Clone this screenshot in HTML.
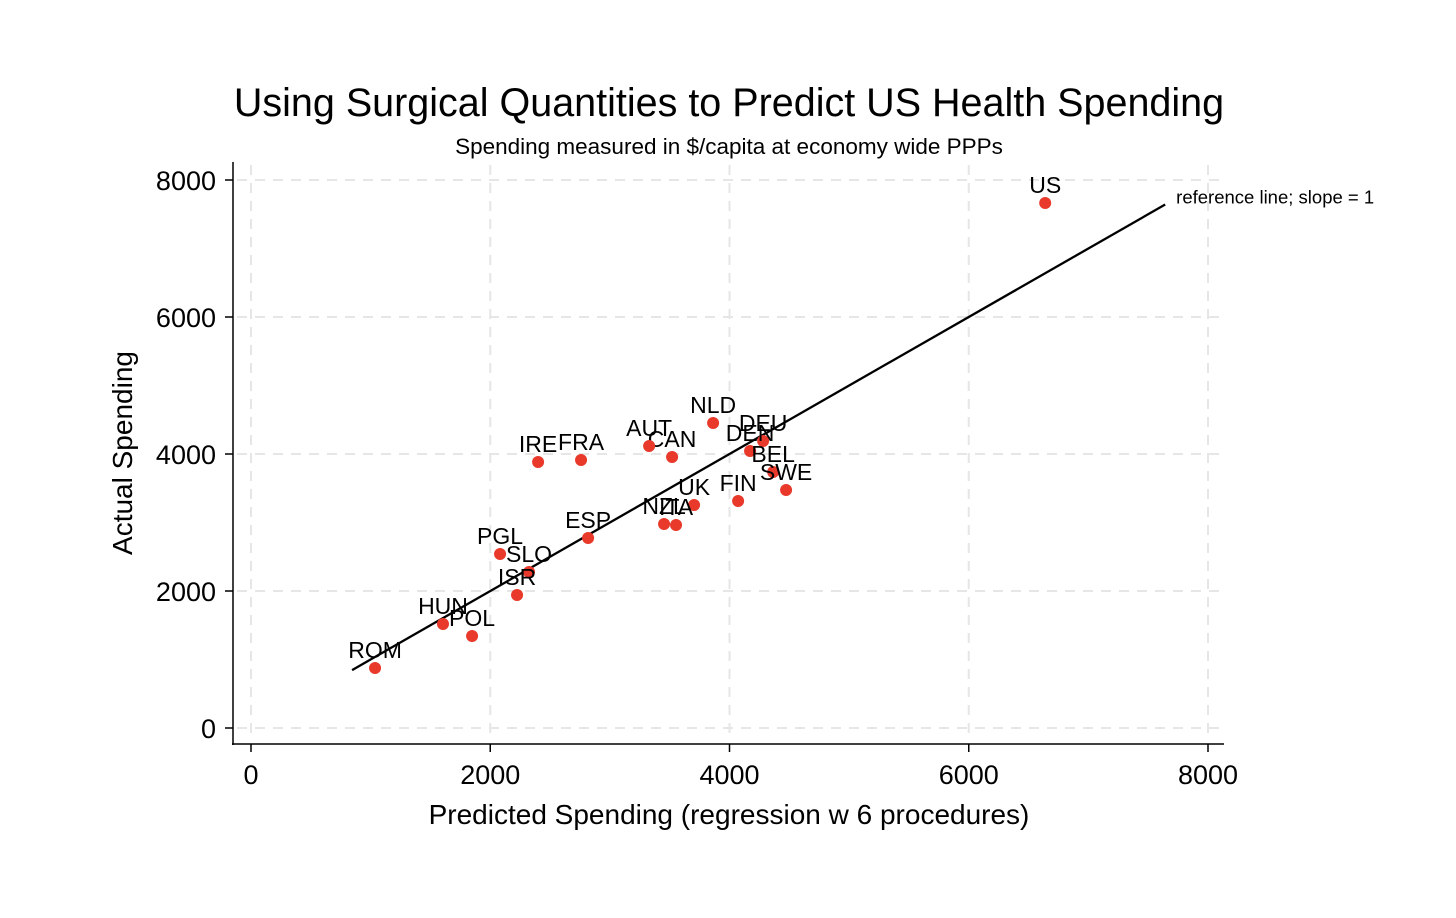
<!DOCTYPE html>
<html><head><meta charset="utf-8"><style>
body{margin:0;background:#fff;}
svg text{font-family:"Liberation Sans",Arial,sans-serif;}
</style></head><body>
<svg id="chart" width="1456" height="913">
<text x="729" y="116" font-size="39.5" text-anchor="middle">Using Surgical Quantities to Predict US Health Spending</text>
<text x="729" y="154" font-size="22.5" text-anchor="middle">Spending measured in $/capita at economy wide PPPs</text>
<g id="grid"></g>
<line x1="233" y1="162" x2="233" y2="745" stroke="#000" stroke-width="1.5"/>
<line x1="232" y1="744" x2="1224" y2="744" stroke="#000" stroke-width="1.5"/>
<g id="ticks"></g>
<text x="729" y="824" font-size="28" text-anchor="middle">Predicted Spending (regression w 6 procedures)</text>
<text transform="translate(132,453) rotate(-90)" font-size="28" text-anchor="middle">Actual Spending</text>
<g id="refline"></g>
<g id="points"></g>
</svg>
<script>
const countries=["US","NLD","DEU","DEN","BEL","SWE","FIN","UK","ITA","NZL","CAN","AUT","FRA","IRE","ESP","PGL","SLO","ISR","HUN","POL","ROM"];
const predicted=[6639,3863,4281,4172,4365,4473,4072,3704,3553,3453,3520,3328,2759,2400,2818,2082,2324,2224,1605,1848,1037];
const actual=[7664,4453,4190,4044,3737,3474,3314,3255,2963,2978,3956,4117,3912,3883,2774,2540,2277,1942,1518,1343,876];
const xTicks=[0,2000,4000,6000,8000];
const yTicks=[0,2000,4000,6000,8000];
const refRange=[845,7642];
const NS="http://www.w3.org/2000/svg";
const sx=v=>251+v*(1208-251)/8000;
const sy=v=>728-v*(728-180)/8000;
function mk(tag,attrs,parent){const e=document.createElementNS(NS,tag);for(const k in attrs)e.setAttribute(k,attrs[k]);parent.appendChild(e);return e;}
const grid=document.getElementById('grid'),ticks=document.getElementById('ticks');
xTicks.forEach(t=>{
 const g=mk('line',{x1:sx(t),x2:sx(t),y1:165,y2:740,stroke:'#e6e6e6','stroke-width':2,'stroke-dasharray':'10,8'},grid);
 
 
 const tk=mk('line',{x1:sx(t),x2:sx(t),y1:744,y2:752,stroke:'#000','stroke-width':1.5},ticks);
 
 
 const tl=mk('text',{x:sx(t),y:784,'font-size':27,'text-anchor':'middle'},ticks);
 tl.textContent=t;
 
 
});
yTicks.forEach(t=>{
 const g=mk('line',{x1:237,x2:1222,y1:sy(t),y2:sy(t),stroke:'#e6e6e6','stroke-width':2,'stroke-dasharray':'10,8'},grid);
 
 
 const tk=mk('line',{x1:225,x2:233,y1:sy(t),y2:sy(t),stroke:'#000','stroke-width':1.5},ticks);
 
 
 const tl=mk('text',{x:216,y:sy(t)+10,'font-size':27,'text-anchor':'end'},ticks);
 tl.textContent=t;
 
 
});
const rl=document.getElementById('refline');
const ln=mk('line',{x1:sx(refRange[0]),y1:sy(refRange[0]),x2:sx(refRange[1]),y2:sy(refRange[1]),stroke:'#000','stroke-width':2.3},rl);


const rt=mk('text',{x:sx(refRange[1])+11,y:sy(refRange[1])-1,'font-size':18.5},rl);
rt.textContent='reference line; slope = 1';


const pts=document.getElementById('points');
countries.forEach((c,i)=>{
 const x=sx(predicted[i]),y=sy(actual[i]);
 const p=mk('circle',{cx:x,cy:y,r:6,fill:'#e8392b'},pts);
 
 
 const t=mk('text',{x:x,y:y-10,'font-size':23,'text-anchor':'middle'},pts);
 t.textContent=c;
 
 
});
</script>
</body></html>
